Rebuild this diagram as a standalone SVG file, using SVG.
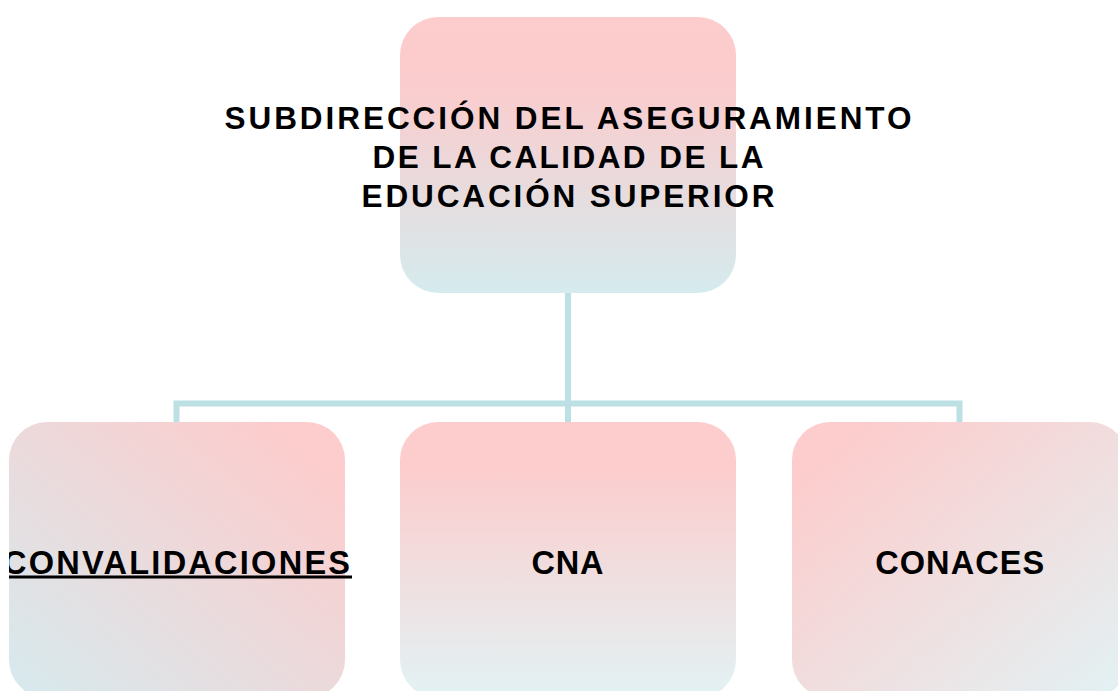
<svg xmlns="http://www.w3.org/2000/svg" width="1118" height="691" viewBox="0 0 1118 691">
  <defs>
    <linearGradient id="gTop" x1="0" y1="0" x2="0" y2="1">
      <stop offset="0" stop-color="#FDCCCC"/>
      <stop offset="0.25" stop-color="#FBCCCD"/>
      <stop offset="1" stop-color="#D5EBEE"/>
    </linearGradient>
    <linearGradient id="gMid" x1="0" y1="0" x2="0" y2="1">
      <stop offset="0" stop-color="#FDCCCC"/>
      <stop offset="0.15" stop-color="#FDCCCC"/>
      <stop offset="1" stop-color="#E2F2F4"/>
    </linearGradient>
    <linearGradient id="gLeft" x1="1" y1="0" x2="0" y2="1">
      <stop offset="0" stop-color="#FDCCCC"/>
      <stop offset="0.1" stop-color="#FDCCCC"/>
      <stop offset="1" stop-color="#D6EAEE"/>
    </linearGradient>
    <linearGradient id="gRight" x1="0" y1="0" x2="1" y2="1">
      <stop offset="0" stop-color="#FDCCCC"/>
      <stop offset="0.1" stop-color="#FDCCCC"/>
      <stop offset="1" stop-color="#E2F2F4"/>
    </linearGradient>
    <clipPath id="clipLeft">
      <rect x="9" y="400" width="400" height="291"/>
    </clipPath>
    <style>
      .lbl { font-family: "Liberation Sans", Arial, sans-serif; font-weight: bold; fill: #000; text-anchor: middle; }
      .top { font-size: 31.5px; }
      .bot { font-size: 32.5px; }
      .conn { fill: none; stroke: #BCE0E4; stroke-width: 6; stroke-linejoin: miter; }
    </style>
  </defs>

  <g id="connectors">
    <path class="conn" d="M568 293 V422"/>
    <path class="conn" d="M176.5 422 V403.5 H959.5 V422"/>
  </g>

  <g id="node-subdireccion">
    <rect x="400" y="17" width="336" height="276" rx="38" ry="38" fill="url(#gTop)"/>
    <text class="lbl top" x="568" y="128.5" textLength="687" lengthAdjust="spacing">SUBDIRECCIÓN DEL ASEGURAMIENTO</text>
    <text class="lbl top" x="568" y="167.5" textLength="391" lengthAdjust="spacing">DE LA CALIDAD DE LA</text>
    <text class="lbl top" x="568" y="206.5" textLength="413" lengthAdjust="spacing">EDUCACIÓN SUPERIOR</text>
  </g>

  <g id="node-convalidaciones">
    <rect x="9" y="422" width="336" height="276" rx="38" ry="38" fill="url(#gLeft)"/>
    <g clip-path="url(#clipLeft)">
      <text class="lbl bot" x="176.5" y="573.5" textLength="347" lengthAdjust="spacing">CONVALIDACIONES</text>
      <rect x="3" y="575.5" width="349" height="3" fill="#000"/>
    </g>
  </g>

  <g id="node-cna">
    <rect x="400" y="422" width="336" height="276" rx="38" ry="38" fill="url(#gMid)"/>
    <text class="lbl bot" x="567.5" y="573.5" textLength="72" lengthAdjust="spacing">CNA</text>
  </g>

  <g id="node-conaces">
    <rect x="792" y="422" width="336" height="276" rx="38" ry="38" fill="url(#gRight)"/>
    <text class="lbl bot" x="959.7" y="573.5" textLength="169" lengthAdjust="spacing">CONACES</text>
  </g>
</svg>
